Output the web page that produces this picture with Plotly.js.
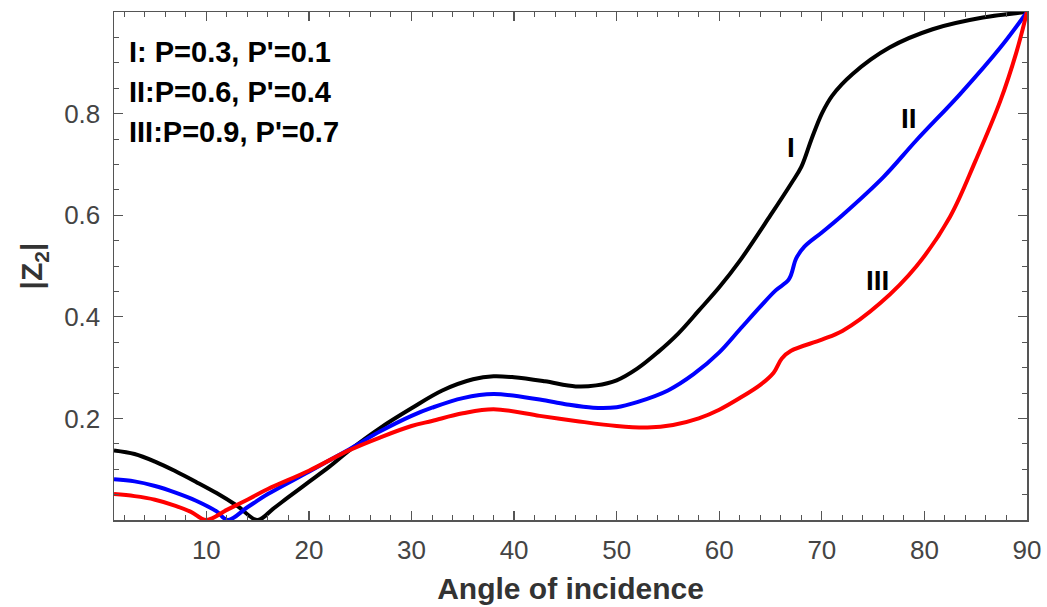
<!DOCTYPE html>
<html>
<head>
<meta charset="utf-8">
<script src="https://cdn.plot.ly/plotly-3.0.1.min.js"></script>
<style>html,body{margin:0;padding:0;background:#fff;}#chart{width:1047px;height:607px;}</style>
</head>
<body>
<div id="chart"></div>
<script>
// Curve I: P=0.3, P'=0.1
const angleI = [1, 3, 5, 7, 9, 11, 13, 15, 16.5, 18, 20, 22, 24, 27, 30, 33, 36, 38, 40, 43, 46, 48, 50, 52, 54, 56, 58, 60, 62, 65, 67, 68, 69, 70, 71, 73, 76.6, 80.8, 85.7, 90];
const zI = [0.137, 0.13, 0.115, 0.096, 0.075, 0.053, 0.028, 0.0, 0.022, 0.045, 0.075, 0.105, 0.138, 0.182, 0.22, 0.255, 0.277, 0.283, 0.281, 0.273, 0.263, 0.265, 0.275, 0.298, 0.33, 0.367, 0.412, 0.458, 0.51, 0.6, 0.662, 0.695, 0.75, 0.8, 0.835, 0.878, 0.93, 0.966, 0.989, 1.0];

// Curve II: P=0.6, P'=0.4
const angleII = [1, 3, 5, 7, 9, 11, 12.1, 14, 16, 20, 24, 27, 30, 32, 35, 38, 42.5, 45, 47.7, 50, 52, 55, 57.5, 60, 62, 64, 65.5, 66.8, 67.5, 68.3, 70, 72, 76, 79.2, 83.5, 87.4, 90];
const zII = [0.08, 0.076, 0.067, 0.054, 0.038, 0.017, 0.0, 0.025, 0.051, 0.095, 0.14, 0.175, 0.205, 0.221, 0.24, 0.248, 0.237, 0.228, 0.221, 0.222, 0.232, 0.255, 0.287, 0.33, 0.375, 0.42, 0.452, 0.474, 0.515, 0.538, 0.566, 0.6, 0.675, 0.747, 0.839, 0.93, 1.0];

// Curve III: P=0.9, P'=0.7
const angleIII = [1, 3, 5, 7, 8.5, 10, 12, 14, 16, 20, 24, 27, 30, 32, 35, 38, 42.5, 46, 50, 53, 55.5, 58, 60, 62, 64, 65.3, 66.1, 67, 70, 72, 75.7, 79.2, 82.5, 85, 87.4, 89, 90];
const zIII = [0.051, 0.047, 0.04, 0.028, 0.016, 0.0, 0.02, 0.04, 0.061, 0.097, 0.138, 0.163, 0.185, 0.195, 0.21, 0.218, 0.205, 0.195, 0.185, 0.182, 0.187, 0.2, 0.217, 0.24, 0.266, 0.29, 0.318, 0.333, 0.355, 0.372, 0.427, 0.499, 0.597, 0.708, 0.825, 0.923, 1.0];

const xTicks = [10, 20, 30, 40, 50, 60, 70, 80, 90];
const yTicks = [0.2, 0.4, 0.6, 0.8];
const legendLines = ["I: P=0.3, P'=0.1", "II:P=0.6, P'=0.4", "III:P=0.9, P'=0.7"];
const curveLabels = ["I", "II", "III"];

const colors = ['#000000', '#0000ff', '#ff0000'];
const lw = 4;
function tr(x, y, c) {
  return {x: x, y: y, type: 'scatter', mode: 'lines', line: {color: c, width: lw, shape: 'spline', smoothing: 1}, hoverinfo: 'skip'};
}
const data = [tr(angleI, zI, colors[0]), tr(angleII, zII, colors[1]), tr(angleIII, zIII, colors[2])];

const FONT = 'Liberation Sans, Arial, sans-serif';
const labelFont = {family: FONT, size: 29, color: '#000'};
const annotations = [];
legendLines.forEach((t, i) => {
  annotations.push({xref: 'paper', yref: 'paper', x: 0.0145, y: [0.921, 0.8425, 0.764][i], xanchor: 'left', yanchor: 'middle',
    text: '<b>' + t + '</b>', showarrow: false, font: labelFont});
});
const lblPos = [[67.0, 0.733], [78.5, 0.79], [75.4, 0.471]];
curveLabels.forEach((t, i) => {
  annotations.push({x: lblPos[i][0], y: lblPos[i][1], xref: 'x', yref: 'y', text: '<b>' + t + '</b>', showarrow: false, font: {family: FONT, size: 28, color: '#000'}});
});

const axisCommon = {
  showgrid: false, zeroline: false, showline: true, linecolor: '#555', linewidth: 1.5,
  mirror: 'allticks', ticks: 'inside', ticklen: 9, tickwidth: 1.2, tickcolor: '#555',
  tickfont: {family: FONT, size: 26, color: '#444'}
};
const layout = {
  width: 1047, height: 607,
  margin: {l: 114, r: 20, t: 12, b: 87},
  paper_bgcolor: '#fff', plot_bgcolor: '#fff',
  showlegend: false,
  xaxis: Object.assign({}, axisCommon, {
    range: [1, 90], tickmode: 'array', tickvals: xTicks, ticktext: xTicks.map(String),
    ticklabelstandoff: 6,
    minor: {dtick: 2, tick0: 0, ticks: 'inside', ticklen: 5, tickcolor: '#555', tickwidth: 1},
    title: {text: '<b>Angle of incidence</b>', font: {family: FONT, size: 30, color: '#333'}, standoff: 14}
  }),
  yaxis: Object.assign({}, axisCommon, {
    range: [0, 1], tickmode: 'array', tickvals: yTicks, ticktext: yTicks.map(v => v.toFixed(1)),
    ticklabelstandoff: 7,
    minor: {dtick: 0.05, tick0: 0, ticks: 'inside', ticklen: 5, tickcolor: '#555', tickwidth: 1},
    title: {text: '<b>|Z<sub>2</sub>|</b>', font: {family: FONT, size: 30, color: '#333'}, standoff: 12}
  }),
  annotations: annotations
};
Plotly.newPlot('chart', data, layout, {staticPlot: true, displayModeBar: false});
</script>
</body>
</html>
